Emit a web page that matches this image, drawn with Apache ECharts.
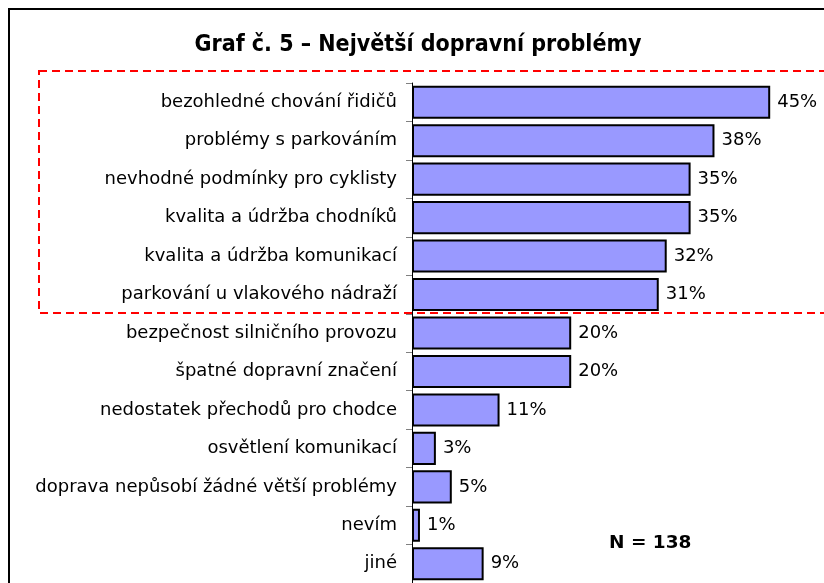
<!DOCTYPE html>
<html>
<head>
<meta charset="utf-8">
<script src="https://cdn.jsdelivr.net/npm/echarts@6/dist/echarts.min.js"></script>
<style>
  html, body { margin: 0; padding: 0; background: #fff; }
  #chart { width: 824px; height: 583px; }
</style>
</head>
<body>
<div id="chart"></div>
<script>
// data
const categories = [
  'bezohledné chování řidičů',
  'problémy s parkováním',
  'nevhodné podmínky pro cyklisty',
  'kvalita a údržba chodníků',
  'kvalita a údržba komunikací',
  'parkování u vlakového nádraží',
  'bezpečnost silničního provozu',
  'špatné dopravní značení',
  'nedostatek přechodů pro chodce',
  'osvětlení komunikací',
  'doprava nepůsobí žádné větší problémy',
  'nevím',
  'jiné'
];
const values = [45, 38, 35, 35, 32, 31, 20, 20, 11, 3, 5, 1, 9];
const titleText = 'Graf č. 5 – Největší dopravní problémy';
const noteText = 'N = 138';

const FONT = 'Tahoma, "DejaVu Sans", sans-serif';
const TITLE_FONT = 'Tahoma, "DejaVu Sans Condensed", "DejaVu Sans", sans-serif';

const chart = echarts.init(document.getElementById('chart'));

const option = {
  animation: false,
  backgroundColor: '#fff',
  title: {
    text: titleText,
    left: 413,
    textAlign: 'center',
    top: 29,
    textStyle: { fontFamily: TITLE_FONT, fontWeight: 'bold', fontSize: 23, color: '#000' }
  },
  grid: { left: 412, right: 14, top: 83, bottom: -3, containLabel: false },
  xAxis: {
    type: 'value',
    min: 0,
    max: 50,
    show: false
  },
  yAxis: {
    type: 'category',
    data: categories,
    inverse: true,
    axisLine: { show: true, lineStyle: { color: '#000', width: 1 } },
    axisTick: { show: true, length: 6, lineStyle: { color: '#808080' } },
    axisLabel: { fontFamily: FONT, fontSize: 18, color: '#000', margin: 15 }
  },
  series: [{
    type: 'bar',
    data: values,
    barCategoryGap: '14%',
    itemStyle: { color: '#9999ff', borderColor: '#000', borderWidth: 2 },
    label: {
      show: true,
      position: 'right',
      distance: 7,
      formatter: '{c}%',
      fontFamily: FONT,
      fontSize: 18,
      color: '#000'
    }
  }],
  graphic: [
    {
      type: 'rect',
      shape: { x: 9, y: 9, width: 830, height: 590 },
      style: { fill: 'none', stroke: '#000', lineWidth: 2 },
      z: 10
    },
    {
      type: 'rect',
      shape: { x: 39, y: 71, width: 800, height: 242 },
      style: { fill: 'none', stroke: '#ff0000', lineWidth: 2, lineDash: [8, 5] },
      z: 10
    },
    {
      type: 'text',
      x: 609,
      y: 534,
      style: { text: noteText, fontFamily: FONT, fontWeight: 'bold', fontSize: 18.5, fill: '#000' },
      z: 10
    }
  ]
};

chart.setOption(option);
</script>
</body>
</html>
